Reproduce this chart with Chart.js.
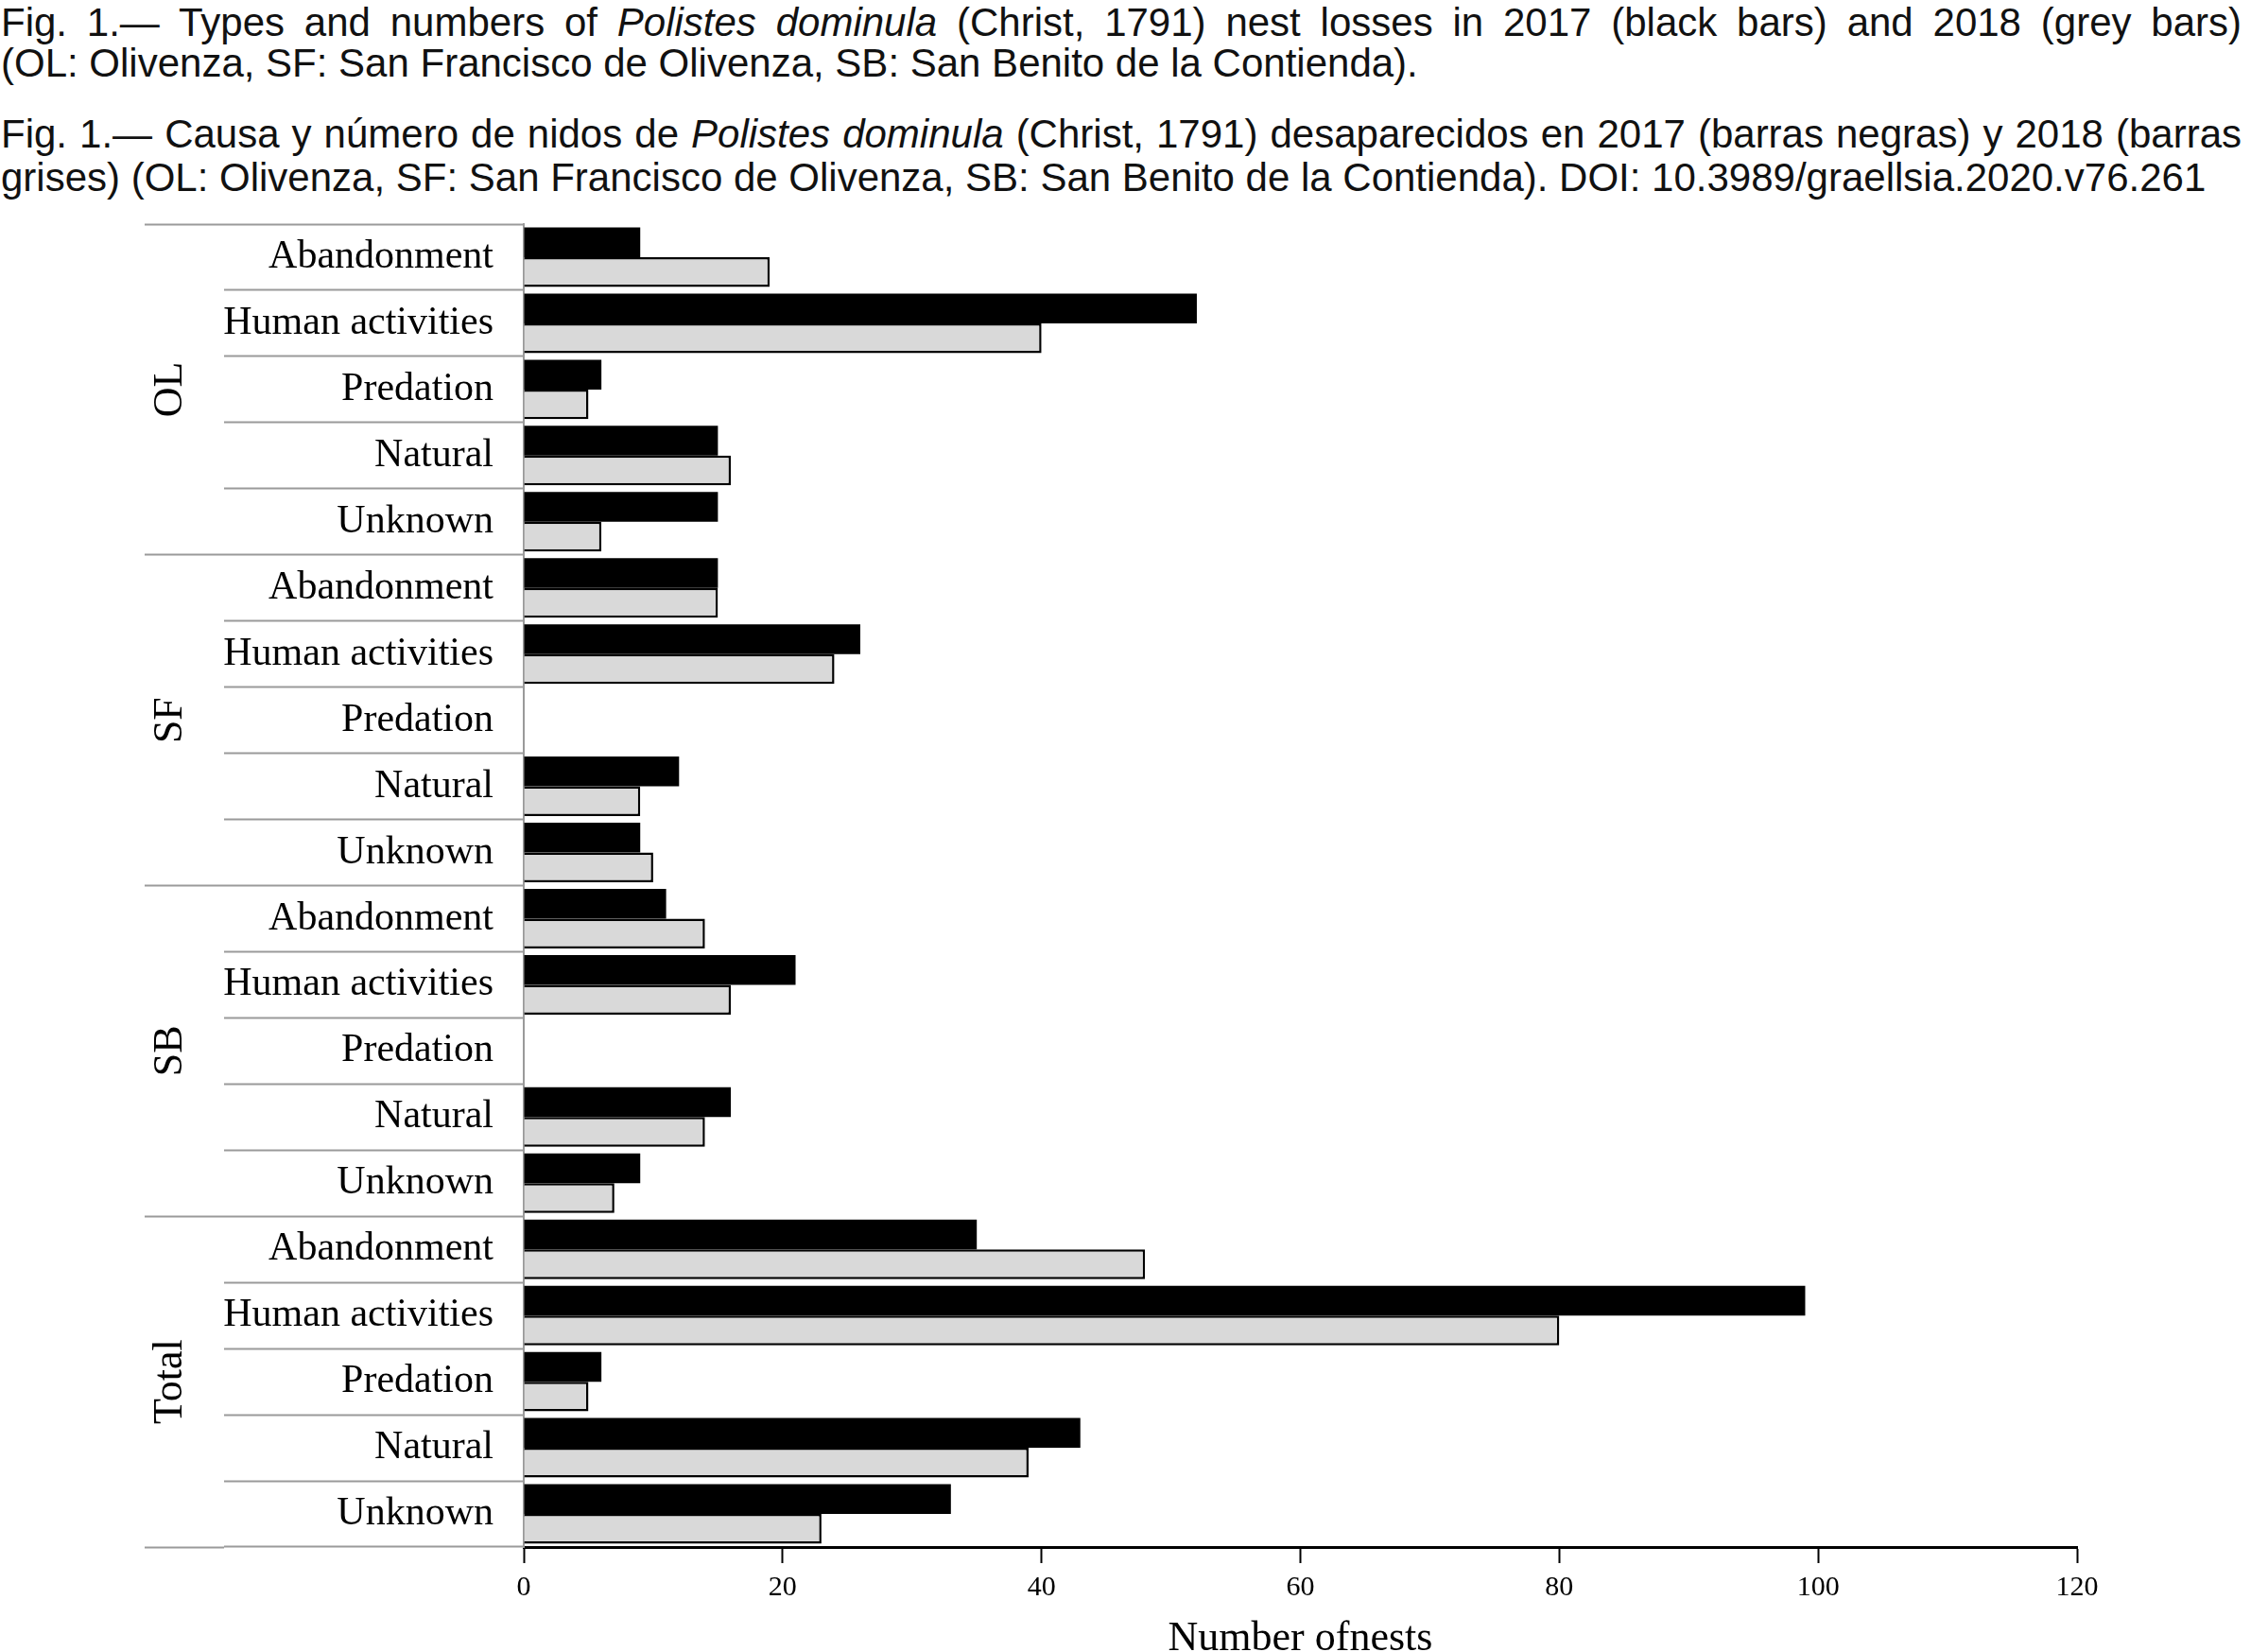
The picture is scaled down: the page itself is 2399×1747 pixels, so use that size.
<!DOCTYPE html>
<html>
<head>
<meta charset="utf-8">
<title>Polistes dominula nest losses</title>
<script src="https://cdn.jsdelivr.net/npm/chart.js@4.4.1/dist/chart.umd.min.js"></script>
<style>
    html, body { margin: 0; padding: 0; background: #fff; }
    body { width: 2399px; height: 1747px; position: relative; overflow: hidden; }
    .cap {
        position: absolute;
        left: 1px;
        width: 2370px;
        font-family: 'Liberation Sans', Arial, sans-serif;
        font-size: 42px;
        line-height: 42px;
        color: #111;
        white-space: nowrap;
    }
    .cap.just { text-align: justify; text-align-last: justify; white-space: normal; }
    #chart { position: absolute; left: 0; top: 0; }
</style>
</head>
<body>
<div class="cap just" style="top:3px">Fig. 1.— Types and numbers of <i>Polistes dominula</i> (Christ, 1791) nest losses in 2017 (black bars) and 2018 (grey bars)</div>
<div class="cap" style="top:46px">(OL: Olivenza, SF: San Francisco de Olivenza, SB: San Benito de la Contienda).</div>
<div class="cap just" style="top:121px">Fig. 1.— Causa y número de nidos de <i>Polistes dominula</i> (Christ, 1791) desaparecidos en 2017 (barras negras) y 2018 (barras</div>
<div class="cap" style="top:167px">grises) (OL: Olivenza, SF: San Francisco de Olivenza, SB: San Benito de la Contienda). DOI: 10.3989/graellsia.2020.v76.261</div>

<canvas id="chart" width="2399" height="1747"></canvas>

<script>
const groups = ['OL', 'SF', 'SB', 'Total'];
const causes = ['Abandonment', 'Human activities', 'Predation', 'Natural', 'Unknown'];
// 2017 = black bars, 2018 = grey bars, one value per row (groups x causes)
const nests2017 = [9, 52, 6, 15, 15, 15, 26, 0, 12, 9, 11, 21, 0, 16, 9, 35, 99, 6, 43, 33];
const nests2018 = [19, 40, 5, 16, 6, 15, 24, 0, 9, 10, 14, 16, 0, 14, 7, 48, 80, 5, 39, 23];
const xMin = 0;
const xMax = 120;
const xStep = 20;

const rowLabels = groups.flatMap(() => causes);

const SEP_GREY = '#9a9a9a';
const groupFont = { family: 'Liberation Serif', size: 44 };

// width of the widest group label, so the rotated text can be centred
function measureText(text, font) {
    const ctx = document.createElement('canvas').getContext('2d');
    ctx.font = `${font.size}px "${font.family}"`;
    return ctx.measureText(text).width;
}
const widestGroup = Math.max(...groups.map((g) => measureText(g, groupFont)));

const groupAxisWidth = 84;
const causeAxisWidth = 317;

new Chart(document.getElementById('chart'), {
    type: 'bar',
    data: {
        labels: rowLabels,
        datasets: [
            {
                label: '2017',
                data: nests2017,
                backgroundColor: '#000000',
                borderColor: '#000000',
                borderWidth: 0,
                barPercentage: 1.0,
                categoryPercentage: 0.9,
            },
            {
                label: '2018',
                data: nests2018,
                backgroundColor: '#d9d9d9',
                borderColor: '#000000',
                borderWidth: 2.5,
                barPercentage: 1.0,
                categoryPercentage: 0.9,
            },
        ],
    },
    options: {
        indexAxis: 'y',
        responsive: false,
        animation: false,
        devicePixelRatio: 1,
        layout: {
            padding: { left: 153, right: 202, top: 237, bottom: 0 },
        },
        plugins: {
            legend: { display: false },
            tooltip: { enabled: false },
        },
        scales: {
            x: {
                type: 'linear',
                min: xMin,
                max: xMax,
                ticks: {
                    stepSize: xStep,
                    padding: 8,
                    color: '#000',
                    font: { family: 'Liberation Sans Narrow', size: 30 },
                },
                grid: {
                    display: true,
                    drawOnChartArea: false,
                    drawTicks: true,
                    tickLength: 17,
                    tickColor: '#000',
                    tickWidth: 2,
                },
                border: { display: true, color: '#000', width: 3 },
                title: {
                    display: true,
                    text: 'Number ofnests',
                    color: '#000',
                    font: { family: 'Liberation Serif', size: 44, lineHeight: 1 },
                    padding: { top: 0, bottom: -8 },
                },
                afterFit: (scale) => { scale.height = 111; },
            },
            y: {
                type: 'category',
                weight: 0,
                offset: true,
                ticks: {
                    autoSkip: false,
                    padding: -285,
                    color: '#000',
                    font: { family: 'Liberation Serif', size: 42 },
                },
                grid: {
                    display: true,
                    offset: true,
                    drawOnChartArea: false,
                    drawTicks: true,
                    tickLength: causeAxisWidth,
                    tickColor: SEP_GREY,
                    tickWidth: 2,
                },
                border: { display: true, color: SEP_GREY, width: 2 },
                afterFit: (scale) => { scale.width = causeAxisWidth; },
            },
            group: {
                type: 'category',
                axis: 'y',
                position: 'left',
                weight: 1,
                labels: groups,
                offset: true,
                ticks: {
                    autoSkip: false,
                    minRotation: 90,
                    maxRotation: 90,
                    crossAlign: 'center',
                    padding: -27 - widestGroup / 2,
                    color: '#000',
                    font: groupFont,
                },
                grid: {
                    display: true,
                    offset: true,
                    drawOnChartArea: false,
                    drawTicks: true,
                    tickLength: groupAxisWidth,
                    tickColor: SEP_GREY,
                    tickWidth: 2,
                },
                border: { display: false },
                afterFit: (scale) => { scale.width = groupAxisWidth; },
            },
        },
    },
});
</script>
</body>
</html>
